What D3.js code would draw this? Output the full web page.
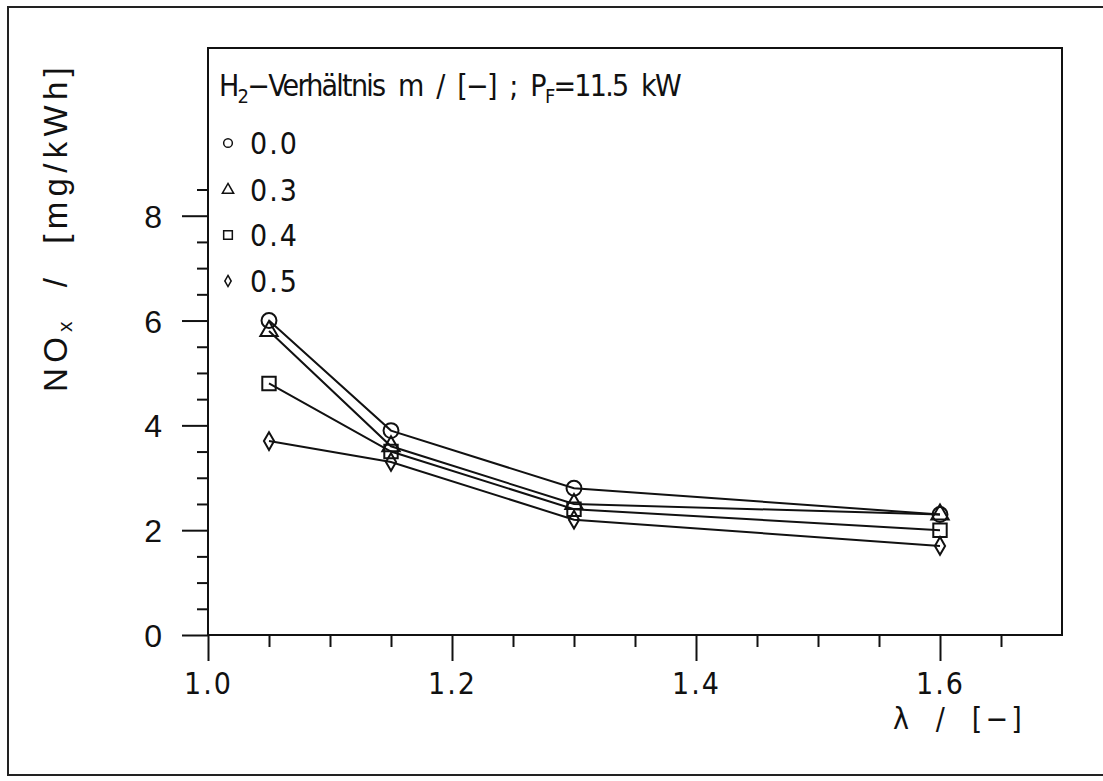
<!DOCTYPE html>
<html>
<head>
<meta charset="utf-8">
<script src="https://cdn.jsdelivr.net/npm/d3@7"></script>
<style>
  html, body { margin: 0; padding: 0; background: #fff; }
  svg { display: block; }
  text { white-space: pre; }
  .narrow { font-family: "Liberation Sans Narrow", "DejaVu Sans Condensed", "Liberation Sans", sans-serif; font-stretch: condensed; }
  .plain { font-family: "Liberation Sans", Arial, sans-serif; }
</style>
</head>
<body>
<div id="chart"></div>
<script>
// lambda values (x) and NOx per H2 ratio series
const lambdaValues = [1.05, 1.15, 1.3, 1.6];
const ratioLabels = ["0.0", "0.3", "0.4", "0.5"];
const noxRatio00 = [6.0, 3.9, 2.8, 2.3];
const noxRatio03 = [5.8, 3.6, 2.5, 2.3];
const noxRatio04 = [4.8, 3.5, 2.4, 2.0];
const noxRatio05 = [3.7, 3.3, 2.2, 1.7];
const xTickLabels = [1.0, 1.2, 1.4, 1.6];
const yTickLabels = [0, 2, 4, 6, 8];

const seriesValues = [noxRatio00, noxRatio03, noxRatio04, noxRatio05];
const symbolTypes = [d3.symbolCircle, d3.symbolTriangle, d3.symbolSquare, d3.symbolDiamond];
const plotSizes = [175, 130, 180, 90];
const legendSizes = [60, 55, 75, 35];

const W = 1103, H = 781;
const margin = { top: 48, right: 41, bottom: 146, left: 208 };

const svg = d3.select("#chart").append("svg")
  .attr("width", W)
  .attr("height", H);

svg.append("rect").attr("width", W).attr("height", H).attr("fill", "#fff");

// outer border of the figure
svg.append("rect")
  .attr("x", 8).attr("y", 7)
  .attr("width", 1110).attr("height", 768)
  .attr("fill", "none").attr("stroke", "#222").attr("stroke-width", 2);

const x = d3.scaleLinear().domain([1.0, 1.7]).range([margin.left, W - margin.right]);
const y = d3.scaleLinear().domain([0, 11.2]).range([H - margin.bottom, margin.top]);

// minor ticks
const xMinor = d3.range(0, 14).map(i => +(1 + i * 0.05).toFixed(2)).filter(v => !xTickLabels.includes(v));
const yMinor = d3.range(0, 18).map(i => i * 0.5).filter(v => !yTickLabels.includes(v));

const xMinorAxis = svg.append("g")
  .attr("transform", `translate(0,${y(0)})`)
  .call(d3.axisBottom(x).tickValues(xMinor).tickSize(12).tickFormat(""));
const yMinorAxis = svg.append("g")
  .attr("transform", `translate(${x(1.0)},0)`)
  .call(d3.axisLeft(y).tickValues(yMinor).tickSize(11).tickFormat(""));

const xAxis = svg.append("g")
  .attr("transform", `translate(0,${y(0)})`)
  .call(d3.axisBottom(x).tickValues(xTickLabels).tickSize(26).tickPadding(12).tickFormat(d3.format(".1f")));
const yAxis = svg.append("g")
  .attr("transform", `translate(${x(1.0)},0)`)
  .call(d3.axisLeft(y).tickValues(yTickLabels).tickSize(26).tickPadding(20).tickFormat(d3.format("d")));

[xMinorAxis, yMinorAxis, xAxis, yAxis].forEach(g => {
  g.attr("font-family", null).attr("font-size", null);
  g.select(".domain").remove();
  g.selectAll("line").attr("stroke", "#111").attr("stroke-width", 2);
});
xAxis.selectAll("text").attr("class", "narrow").style("font-size", "30px").style("letter-spacing", "2px").attr("fill", "#111");
yAxis.selectAll("text").attr("class", "plain").style("font-size", "32px").attr("fill", "#111").attr("dy", "0.36em");

// plot frame
svg.append("rect")
  .attr("x", x(1.0)).attr("y", y(11.2))
  .attr("width", x(1.7) - x(1.0)).attr("height", y(0) - y(11.2))
  .attr("fill", "none").attr("stroke", "#111").attr("stroke-width", 2);

// series lines and markers
const line = d3.line()
  .x((d, i) => x(lambdaValues[i]))
  .y(d => y(d));

seriesValues.forEach((vals, s) => {
  svg.append("path")
    .datum(vals)
    .attr("fill", "none")
    .attr("stroke", "#111")
    .attr("stroke-width", 2)
    .attr("d", line);

  svg.append("g").selectAll("path")
    .data(vals)
    .join("path")
    .attr("transform", (d, i) => `translate(${x(lambdaValues[i])},${y(d)})`)
    .attr("d", d3.symbol().type(symbolTypes[s]).size(plotSizes[s]))
    .attr("fill", "none")
    .attr("stroke", "#111")
    .attr("stroke-width", 2);
});

// spread or tighten a text to a target width with letter spacing
function fitWidth(sel, target, vertical) {
  const n = sel.text().length;
  let ls = 0;
  for (let k = 0; k < 3; k++) {
    const bb = sel.node().getBBox();
    const len = vertical ? bb.width : bb.width;
    ls += (target - len) / n;
    sel.style("letter-spacing", `${ls}px`);
  }
}

// legend
const title = svg.append("text")
  .attr("class", "narrow")
  .attr("x", 219).attr("y", 96)
  .style("font-size", "30px").attr("fill", "#111");
title.append("tspan").text("H");
title.append("tspan").attr("dy", 7).style("font-size", "20px").text("2");
title.append("tspan").attr("dy", -7).text("\u2212Verhältnis  m  /  [\u2212]  ;  P");
title.append("tspan").attr("dy", 7).style("font-size", "20px").text("F");
title.append("tspan").attr("dy", -7).text("=11.5  kW");
fitWidth(title, 462);

const legendRows = [143, 190, 235, 281];
ratioLabels.forEach((lab, s) => {
  svg.append("path")
    .attr("transform", `translate(228,${legendRows[s]})`)
    .attr("d", d3.symbol().type(symbolTypes[s]).size(legendSizes[s]))
    .attr("fill", "none").attr("stroke", "#111").attr("stroke-width", 1.5);
  svg.append("text")
    .attr("class", "narrow")
    .attr("x", 250).attr("y", legendRows[s] + 11)
    .style("font-size", "30px").style("letter-spacing", "2px").attr("fill", "#111")
    .text(lab);
});

// axis titles
const xTitle = svg.append("text")
  .attr("class", "narrow")
  .attr("x", 893).attr("y", 729)
  .style("font-size", "30px").attr("fill", "#111")
  .text("\u03bb  /  [\u2212]");
fitWidth(xTitle, 132);

const yTitle = svg.append("text")
  .attr("class", "plain")
  .attr("transform", "translate(67,392) rotate(-90)")
  .style("font-size", "33px").attr("fill", "#111");
yTitle.append("tspan").text("NO");
yTitle.append("tspan").attr("dy", 5).style("font-size", "21px").text("x");
yTitle.append("tspan").attr("dy", -5).text("  /  [mg/kWh]");
fitWidth(yTitle, 330);
</script>
</body>
</html>
